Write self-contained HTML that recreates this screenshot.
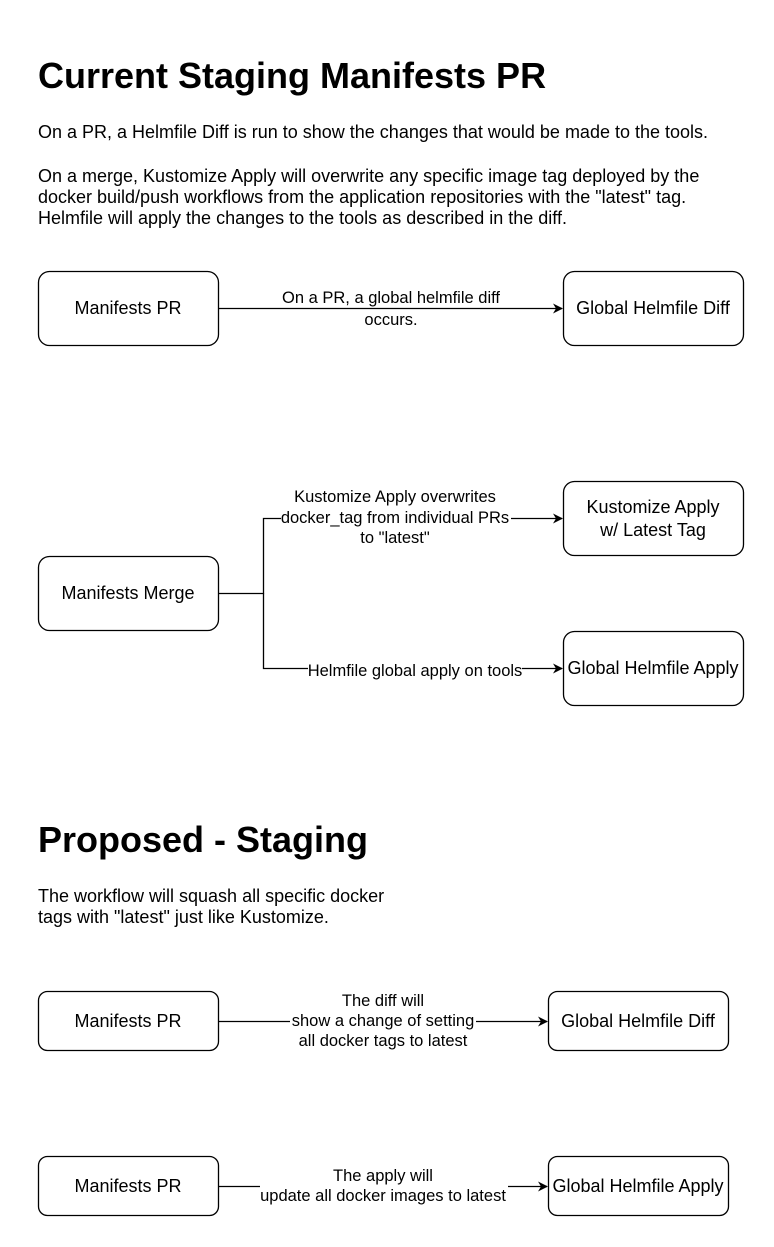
<!DOCTYPE html>
<html><head><meta charset="utf-8"><style>
html,body{margin:0;padding:0;background:#fff;}
svg{display:block;font-family:"Liberation Sans",Arial,sans-serif;}
</style></head><body>
<svg width="774" height="1247" viewBox="0 0 774 1247" xmlns="http://www.w3.org/2000/svg">
<defs><marker id="a" markerWidth="10" markerHeight="10" refX="9" refY="5" orient="auto" markerUnits="userSpaceOnUse"><path d="M0,0 L10,5 L0,10 L3,5 Z" fill="#000"/></marker></defs>
<g fill="#000">
<text x="38" y="88" font-size="36" font-weight="bold">Current Staging Manifests PR</text>
<text font-size="18">
<tspan x="38" y="138">On a PR, a Helmfile Diff is run to show the changes that would be made to the tools.</tspan>
<tspan x="38" y="182">On a merge, Kustomize Apply will overwrite any specific image tag deployed by the</tspan>
<tspan x="38" y="203">docker build/push workflows from the application repositories with the "latest" tag.</tspan>
<tspan x="38" y="224">Helmfile will apply the changes to the tools as described in the diff.</tspan>
</text>
<text x="38" y="852" font-size="36" font-weight="bold">Proposed - Staging</text>
<text font-size="18">
<tspan x="38" y="902">The workflow will squash all specific docker</tspan>
<tspan x="38" y="923">tags with "latest" just like Kustomize.</tspan>
</text>
</g>
<g fill="none" stroke="#000" stroke-width="1.3">
<rect x="38.5" y="271.5" width="180" height="74" rx="11"/>
<rect x="563.5" y="271.5" width="180" height="74" rx="11"/>
<rect x="563.5" y="481.5" width="180" height="74" rx="11"/>
<rect x="38.5" y="556.5" width="180" height="74" rx="11"/>
<rect x="563.5" y="631.5" width="180" height="74" rx="11"/>
<rect x="38.5" y="991.5" width="180" height="59" rx="9"/>
<rect x="548.5" y="991.5" width="180" height="59" rx="9"/>
<rect x="38.5" y="1156.5" width="180" height="59" rx="9"/>
<rect x="548.5" y="1156.5" width="180" height="59" rx="9"/>
<path d="M218.5,308.5 H562" marker-end="url(#a)"/>
<path d="M218.5,593.5 H263.5 V518.5 H562" marker-end="url(#a)"/>
<path d="M263.5,593.5 V668.5 H562" marker-end="url(#a)"/>
<path d="M218.5,1021.5 H547" marker-end="url(#a)"/>
<path d="M218.5,1186.5 H547" marker-end="url(#a)"/>
</g>
<g font-size="18" text-anchor="middle" fill="#000">
<text x="128" y="314">Manifests PR</text>
<text x="653" y="314">Global Helmfile Diff</text>
<text x="653" y="513">Kustomize Apply</text>
<text x="653" y="536">w/ Latest Tag</text>
<text x="128" y="599">Manifests Merge</text>
<text x="653" y="674">Global Helmfile Apply</text>
<text x="128" y="1027">Manifests PR</text>
<text x="638" y="1027">Global Helmfile Diff</text>
<text x="128" y="1192">Manifests PR</text>
<text x="638" y="1192">Global Helmfile Apply</text>
</g>
<g font-size="16.5" text-anchor="middle" fill="#000">
<rect x="282" y="289" width="218" height="18" fill="#fff"/>
<text x="391" y="303">On a PR, a global helmfile diff</text>
<rect x="360" y="310" width="62" height="18" fill="#fff"/>
<text x="391" y="325">occurs.</text>
<rect x="281" y="488" width="230" height="60" fill="#fff"/>
<text x="395" y="502">Kustomize Apply overwrites</text>
<text x="395" y="523">docker_tag from individual PRs</text>
<text x="395" y="543">to "latest"</text>
<rect x="308" y="660" width="214" height="18" fill="#fff"/>
<text x="415" y="676">Helmfile global apply on tools</text>
<rect x="290" y="992" width="186" height="58" fill="#fff"/>
<text x="383" y="1006">The diff will</text>
<text x="383" y="1026">show a change of setting</text>
<text x="383" y="1046">all docker tags to latest</text>
<rect x="260" y="1166" width="248" height="38" fill="#fff"/>
<text x="383" y="1181">The apply will</text>
<text x="383" y="1201">update all docker images to latest</text>
</g>
</svg>
</body></html>
